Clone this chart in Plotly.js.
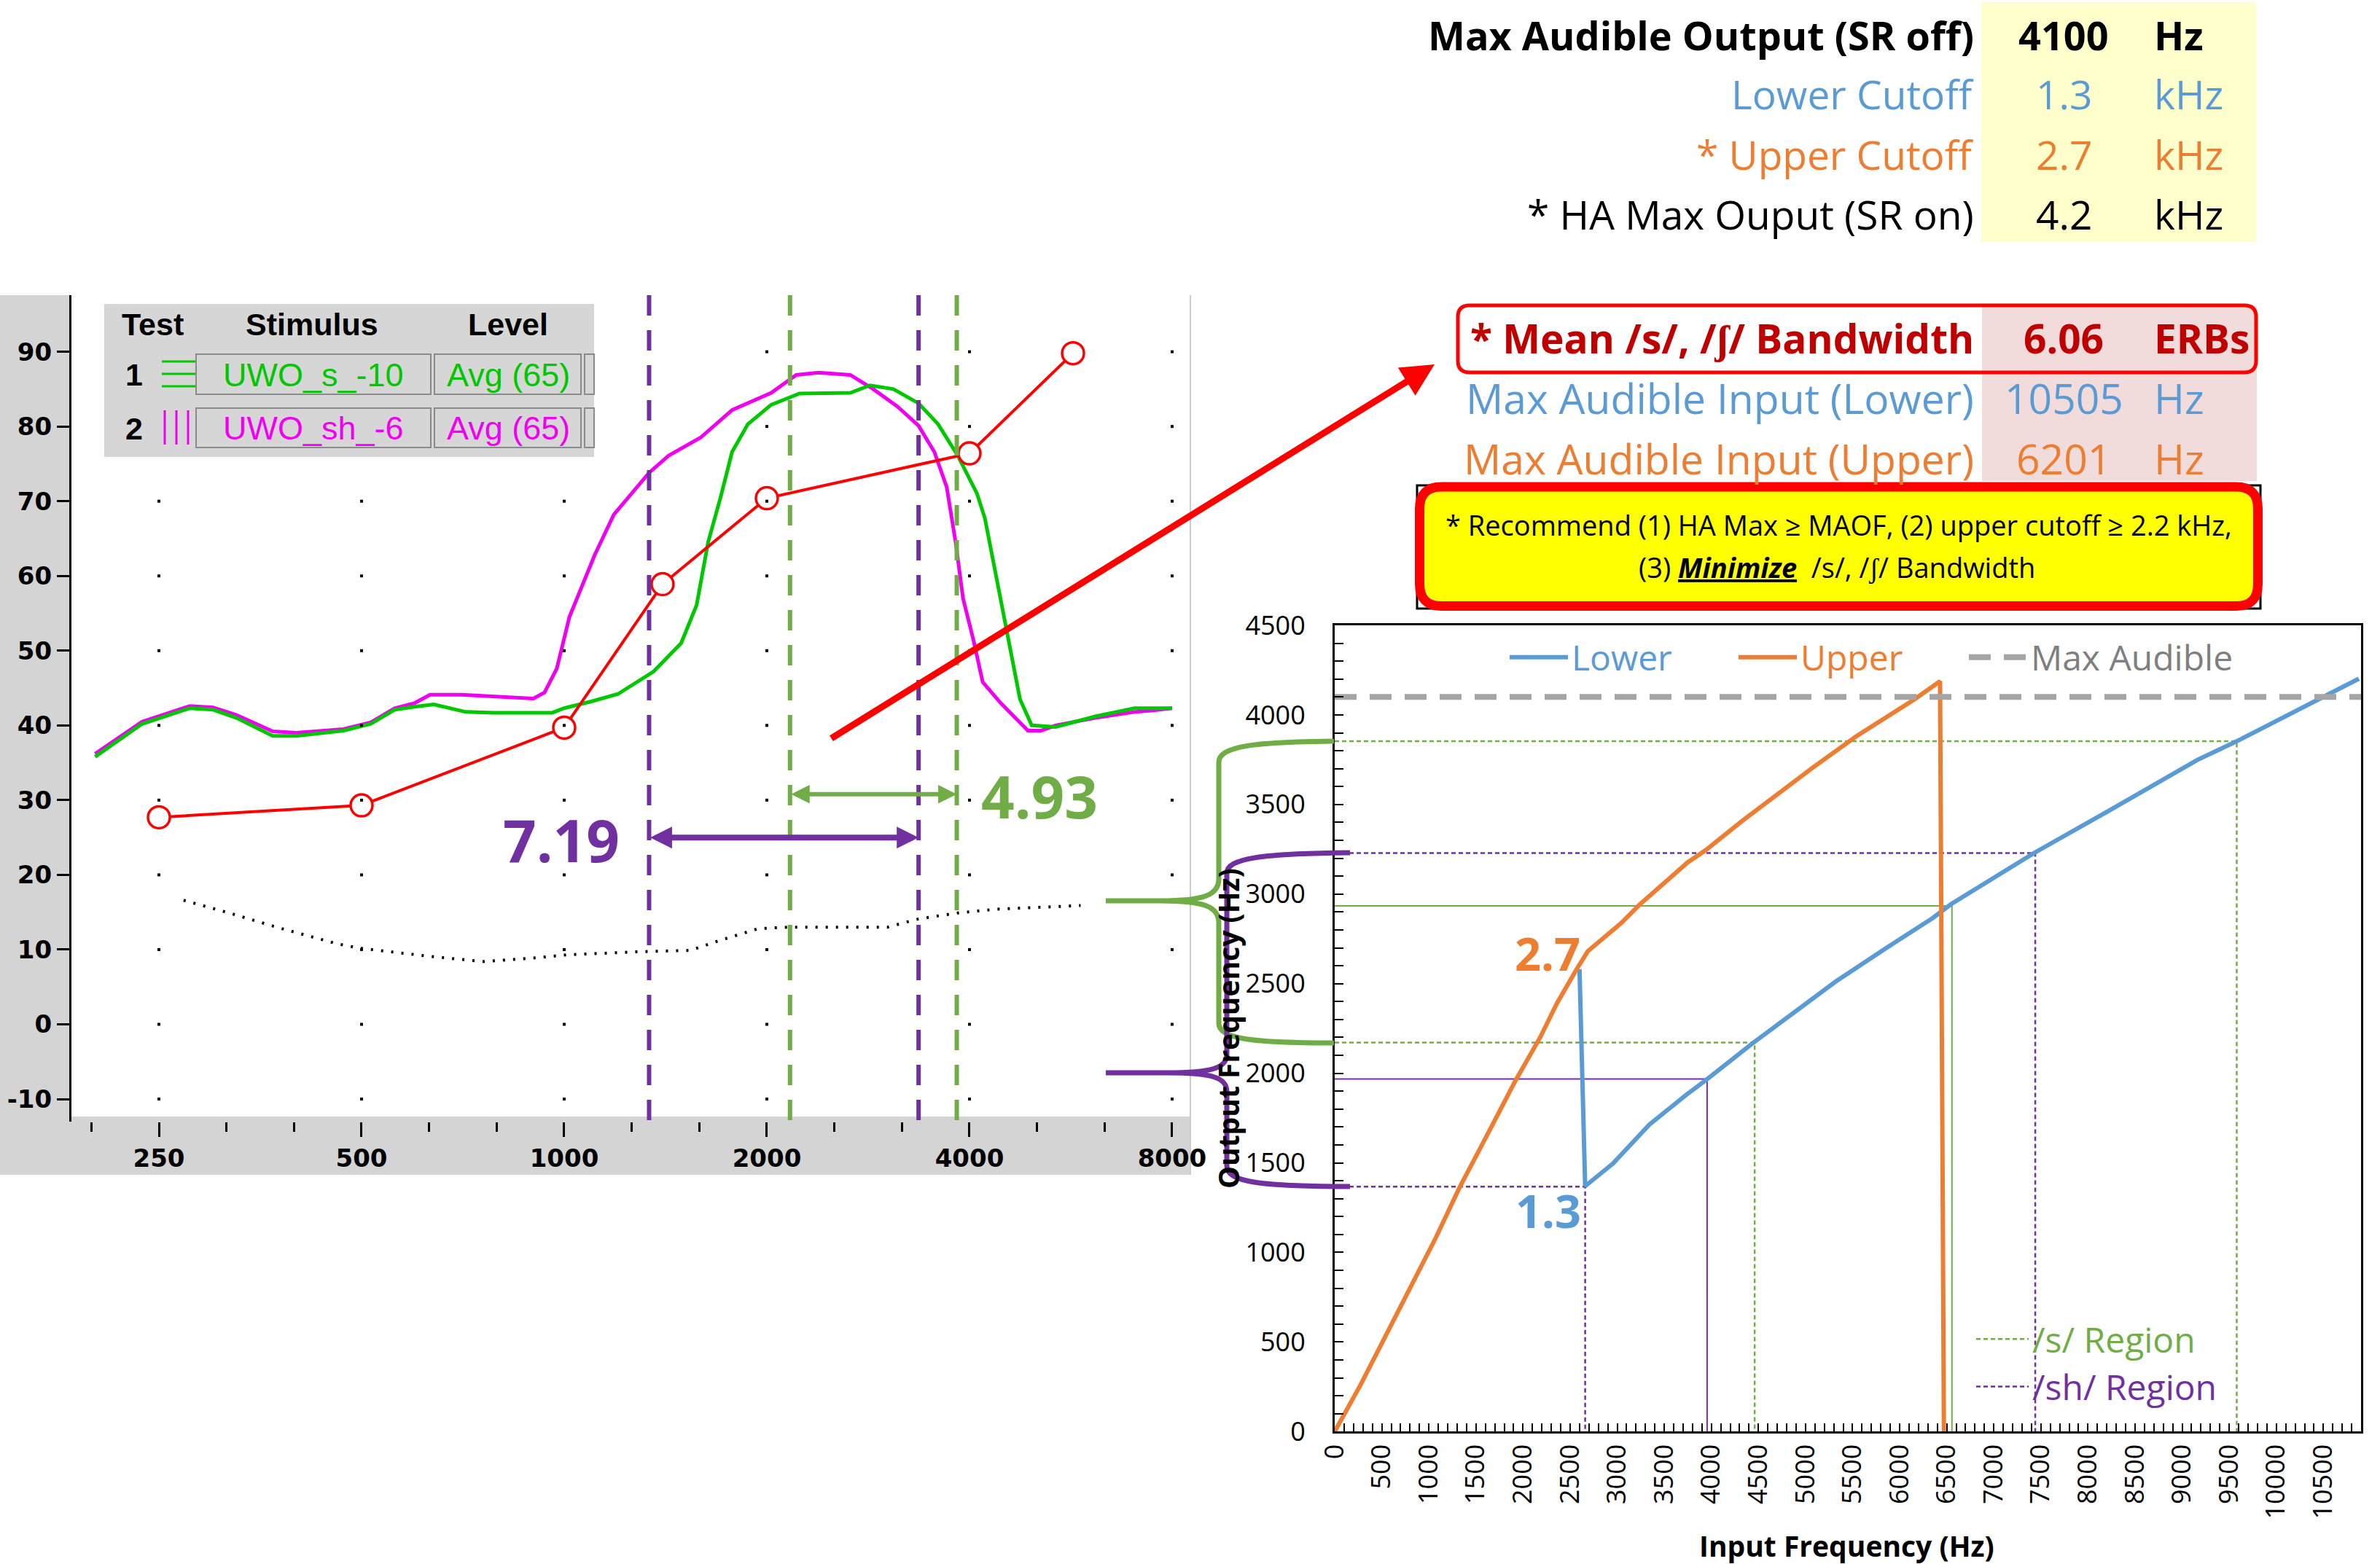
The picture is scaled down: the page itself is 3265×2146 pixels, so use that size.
<!DOCTYPE html>
<html><head><meta charset="utf-8">
<script src="https://cdn.plot.ly/plotly-3.0.1.min.js"></script>
<style>html,body{margin:0;padding:0;background:#fff}</style>
</head><body><div id="chart" style="width:3265px;height:2146px"></div>
<script>
// ===== Left chart: speech spectra (dB) vs frequency (Hz, log) =====
const leftTickFreqs  = [250, 500, 1000, 2000, 4000, 8000];
const leftTickLabels = ['250', '500', '1000', '2000', '4000', '8000'];
const leftMinorFreqs = [198.4, 315, 397, 630, 794, 1260, 1587, 2520, 3175, 5040, 6350];
const leftYTicks     = [-10, 0, 10, 20, 30, 40, 50, 60, 70, 80, 90];
const leftYLabels    = ['-10', '0', '10', '20', '30', '40', '50', '60', '70', '80', '90'];
const leftYRange     = [-13.02, 97.57];

const sFreq  = [201, 236, 278, 301, 326, 369, 400, 470, 516, 560, 599, 640, 714, 785, 960, 1000, 1097, 1202, 1357, 1492, 1573, 1636, 1707, 1776, 1874, 2030, 2236, 2661, 2845, 3083, 3361, 3593, 3843, 4105, 4217, 4388, 4567, 4755, 4950, 5370, 6150, 7030, 8000];
const sLevel = [35.8, 40.2, 42.3, 42.1, 41.0, 38.6, 38.6, 39.3, 40.2, 42.1, 42.5, 42.8, 41.8, 41.7, 41.7, 42.3, 43.2, 44.2, 47.2, 51.0, 56.1, 64.5, 70.5, 76.6, 80.3, 82.9, 84.4, 84.5, 85.5, 85.0, 83.1, 80.3, 76.1, 71.0, 67.7, 59.8, 51.4, 43.5, 40.0, 39.8, 41.2, 42.3, 42.3];

const shFreq  = [201, 236, 278, 301, 326, 369, 400, 470, 516, 560, 600, 632, 704, 800, 900, 935, 975, 1018, 1060, 1110, 1185, 1337, 1430, 1594, 1776, 2030, 2212, 2387, 2661, 2878, 3123, 3361, 3547, 3700, 3815, 3913, 4055, 4185, 4450, 4885, 5110, 5370, 6150, 7030, 7500, 8000];
const shLevel = [36.2, 40.5, 42.6, 42.4, 41.4, 39.2, 39.0, 39.5, 40.4, 42.3, 43.0, 44.1, 44.1, 43.8, 43.6, 44.4, 47.6, 54.5, 58.3, 62.8, 68.2, 73.8, 76.1, 78.5, 82.2, 84.5, 86.9, 87.2, 86.9, 85.0, 82.7, 80.1, 76.6, 71.9, 64.5, 57.0, 51.4, 45.8, 43.0, 39.3, 39.3, 40.0, 41.0, 41.8, 42.0, 42.3];

const redFreq  = [250, 500, 1000, 1400, 2000, 4000, 5700];
const redLevel = [27.7, 29.3, 39.7, 58.9, 70.4, 76.4, 89.8];

const threshFreq  = [272, 318, 374, 459, 496, 631, 758, 909, 1009, 1279, 1540, 1700, 1940, 2155, 3020, 3360, 3840, 4370, 5850];
const threshLevel = [16.6, 14.9, 13.0, 10.8, 10.2, 9.1, 8.4, 8.9, 9.3, 9.7, 9.9, 11.2, 12.8, 13.0, 13.0, 14.1, 14.9, 15.4, 15.9];

const shEdgesHz = [1337, 3361];
const sEdgesHz  = [2165, 3830];
const shBandLabel = '7.19';
const sBandLabel  = '4.93';

// ===== Right chart: input vs output frequency =====
const upperIn  = [0, 276, 1074, 1324, 1622, 1918, 2183, 2361, 2570, 2690, 3043, 3236, 3749, 3940, 4328, 4777, 5063, 5546, 5868, 6155, 6429, 6470];
const upperOut = [0, 262, 1082, 1360, 1658, 1957, 2201, 2391, 2581, 2682, 2838, 2940, 3177, 3245, 3408, 3591, 3700, 3883, 3991, 4086, 4188, 0];
const lowerIn  = [2600, 2660, 2955, 3341, 3725, 3949, 4437, 5321, 5867, 6348, 6547, 7430, 8199, 9163, 9580, 10444, 10877];
const lowerOut = [2581, 1370, 1496, 1713, 1876, 1964, 2167, 2512, 2702, 2865, 2944, 3230, 3458, 3749, 3853, 4081, 4202];
const maxAudibleOutput = 4100;
const sRegionOut  = [3853, 2934, 2171];
const sRegionIn   = [9580, 6555, 4460];
const shRegionOut = [3229, 1968, 1367];
const shRegionIn  = [7440, 3955, 2660];
const rightXTicks = [0,500,1000,1500,2000,2500,3000,3500,4000,4500,5000,5500,6000,6500,7000,7500,8000,8500,9000,9500,10000,10500];
const rightYTicks = [0,500,1000,1500,2000,2500,3000,3500,4000,4500];
const rightXRange = [0, 10900];
const upperCutoffLabel = '2.7';
const lowerCutoffLabel = '1.3';

// ===== Tables =====
const t1Labels = ['Max Audible Output (SR off)', 'Lower Cutoff', '* Upper Cutoff', '* HA Max Ouput (SR on)'];
const t1Values = ['4100', '1.3', '2.7', '4.2'];
const t1Units  = ['Hz', 'kHz', 'kHz', 'kHz'];
const t2Labels = ['* Mean /s/, /ʃ/ Bandwidth', 'Max Audible Input (Lower)', 'Max Audible Input (Upper)'];
const t2Values = ['6.06', '10505', '6201'];
const t2Units  = ['ERBs', 'Hz', 'Hz'];
const noteLine1 = '* Recommend (1) HA Max ≥ MAOF, (2) upper cutoff ≥ 2.2 kHz,';
const noteLine2 = '(3) <b><i><u>Minimize</u></i></b>\u00a0 /s/, /ʃ/ Bandwidth';

// ---------- helpers ----------
const W = 3265, H = 2146;
const X = px => px / W;
const Y = py => 1 - py / H;
const L10 = Math.log10;
function P(str){ // pixel path -> paper path
  return str.replace(/(-?\d+(?:\.\d+)?),(-?\d+(?:\.\d+)?)/g, (m,a,b)=> X(+a).toFixed(6)+','+Y(+b).toFixed(6));
}
function roundRect(x0,y0,x1,y1,r){
  return `M ${x0+r},${y0} L ${x1-r},${y0} Q ${x1},${y0} ${x1},${y0+r} L ${x1},${y1-r} Q ${x1},${y1} ${x1-r},${y1} L ${x0+r},${y1} Q ${x0},${y1} ${x0},${y1-r} L ${x0},${y0+r} Q ${x0},${y0} ${x0+r},${y0} Z`;
}
const PURPLE='#7030A0', GREEN='#70AD47', BLUE='#5B9BD5', ORANGE='#ED7D31', GRAY='#A5A5A5';
const CAL='Open Sans', X11='Liberation Sans', DV='DejaVu Sans';

const traces = [];
// left chart traces
traces.push({x:threshFreq, y:threshLevel, xaxis:'x', yaxis:'y', mode:'lines', line:{color:'#000', width:4, dash:'3px,11px'}, showlegend:false});
traces.push({x:shFreq, y:shLevel, xaxis:'x', yaxis:'y', mode:'lines', line:{color:'#F000F0', width:5}, showlegend:false});
traces.push({x:sFreq, y:sLevel, xaxis:'x', yaxis:'y', mode:'lines', line:{color:'#00C800', width:5}, showlegend:false});
traces.push({x:redFreq, y:redLevel, xaxis:'x', yaxis:'y', mode:'lines+markers', line:{color:'#FF0000', width:4},
  marker:{symbol:'circle', size:30, color:'#FFFFFF', line:{color:'#FF0000', width:3.5}}, showlegend:false});
const gx=[], gy=[];
leftYTicks.forEach(v=>leftTickFreqs.forEach(f=>{gx.push(f); gy.push(v);}));
traces.push({x:gx, y:gy, xaxis:'x', yaxis:'y', mode:'markers', marker:{symbol:'square', size:4, color:'#000'}, showlegend:false});
// band edge dashed verticals (left chart)
shEdgesHz.forEach(f=>traces.push({x:[f,f], y:[leftYRange[1], leftYRange[0]], xaxis:'x', yaxis:'y', mode:'lines',
  line:{color:PURPLE, width:6, dash:'28px,20px'}, showlegend:false}));
sEdgesHz.forEach(f=>traces.push({x:[f,f], y:[leftYRange[1], leftYRange[0]], xaxis:'x', yaxis:'y', mode:'lines',
  line:{color:GREEN, width:6, dash:'28px,20px'}, showlegend:false}));

// right chart region traces
function regionTraces(ins, outs, color, name, grp){
  ins.forEach((xi,i)=>{
    const mid = (i===1);
    traces.push({x:[0, xi, xi], y:[outs[i], outs[i], 0], xaxis:'x2', yaxis:'y2', mode:'lines',
      line:{color:color, width: mid?2:2.5, dash: mid?'solid':'6px,4px'},
      name: `<span style="color:${color}">${name}</span>`, legend:'legend2', legendgroup:grp, showlegend: i===0});
  });
}
regionTraces(sRegionIn, sRegionOut, GREEN, '/s/ Region', 's');
regionTraces(shRegionIn, shRegionOut, PURPLE, '/sh/ Region', 'sh');
traces.push({x:lowerIn, y:lowerOut, xaxis:'x2', yaxis:'y2', mode:'lines', line:{color:BLUE, width:6},
  name:`<span style="color:${BLUE}">Lower</span>`, legend:'legend'});
traces.push({x:upperIn, y:upperOut, xaxis:'x2', yaxis:'y2', mode:'lines', line:{color:ORANGE, width:6},
  name:`<span style="color:${ORANGE}">Upper</span>`, legend:'legend3'});
traces.push({x:rightXRange, y:[maxAudibleOutput, maxAudibleOutput], xaxis:'x2', yaxis:'y2', mode:'lines', line:{color:GRAY, width:8, dash:'30px,18px'},
  name:`<span style="color:#7F7F7F">Max Audible</span>`, legend:'legend4'});

// ---------- shapes ----------
const shapes = [];
// left panel gray
shapes.push({type:'rect', xref:'paper', yref:'paper', x0:X(0), x1:X(98), y0:Y(1612), y1:Y(405), fillcolor:'#D4D4D4', line:{width:0}, layer:'below'});
shapes.push({type:'rect', xref:'paper', yref:'paper', x0:X(0), x1:X(1633), y0:Y(1612), y1:Y(1532), fillcolor:'#D4D4D4', line:{width:0}, layer:'below'});
shapes.push({type:'line', xref:'paper', yref:'paper', x0:X(1633), x1:X(1633), y0:Y(1612), y1:Y(405), line:{color:'#CCCCCC', width:2}, layer:'below'});
// left x axis line
shapes.push({type:'line', xref:'x', yref:'paper', x0:L10(leftMinorFreqs[0]), x1:L10(leftTickFreqs[leftTickFreqs.length-1]), y0:Y(1539), y1:Y(1539), line:{color:'#000', width:3}});
// legend box of left chart
shapes.push({type:'rect', xref:'paper', yref:'paper', x0:X(143), x1:X(815), y0:Y(627), y1:Y(417), fillcolor:'#D6D6D6', line:{width:0}});
[[486,541],[560,614]].forEach(r=>{
  [[269,591],[596,797],[802,815]].forEach(c=>{
    shapes.push({type:'rect', xref:'paper', yref:'paper', x0:X(c[0]), x1:X(c[1]), y0:Y(r[1]), y1:Y(r[0]), fillcolor:'#D6D6D6', line:{color:'#8A8A8A', width:2}});
  });
});
[496,513,530].forEach(yy=>shapes.push({type:'line', xref:'paper', yref:'paper', x0:X(222), x1:X(268), y0:Y(yy), y1:Y(yy), line:{color:'#00C800', width:3}}));
[226,242,258].forEach(xx=>shapes.push({type:'line', xref:'paper', yref:'paper', x0:X(xx), x1:X(xx), y0:Y(563), y1:Y(610), line:{color:'#F000F0', width:3}}));
// braces
shapes.push({type:'path', xref:'paper', yref:'paper', line:{color:GREEN, width:7},
  path:P('M 1517,1236 L 1592,1236 C 1652,1236 1672,1228 1672,1206 L 1672,1046 C 1672,1024 1720,1018 1830,1017 M 1592,1236 C 1652,1236 1672,1244 1672,1266 L 1672,1404 C 1672,1426 1720,1431 1830,1431')});
shapes.push({type:'path', xref:'paper', yref:'paper', line:{color:PURPLE, width:7},
  path:P('M 1517,1472 L 1600,1472 C 1662,1472 1683,1466 1683,1446 L 1683,1198 C 1683,1178 1730,1171 1852,1170 M 1600,1472 C 1662,1472 1683,1478 1683,1498 L 1683,1600 C 1683,1622 1730,1628 1852,1628')});
// tables
shapes.push({type:'rect', xref:'paper', yref:'paper', x0:X(2718), x1:X(3095), y0:Y(332), y1:Y(3), fillcolor:'#FFFFCC', line:{width:0}, layer:'below'});
shapes.push({type:'rect', xref:'paper', yref:'paper', x0:X(2719), x1:X(3096), y0:Y(660), y1:Y(420), fillcolor:'#F2DCDB', line:{width:0}, layer:'below'});
shapes.push({type:'path', xref:'paper', yref:'paper', line:{color:'#FF0000', width:5}, path:P(roundRect(2000,419,3095,511,16))});
shapes.push({type:'rect', xref:'paper', yref:'paper', x0:X(1944), x1:X(3101), y0:Y(835), y1:Y(666), line:{color:'#000', width:3}});
shapes.push({type:'path', xref:'paper', yref:'paper', fillcolor:'#FFFF00', line:{color:'#FF0000', width:13}, path:P(roundRect(1947.5,668,3097.5,831.5,30))});

// ---------- annotations ----------
const ann = [];
function txt(x,y,text,opts){
  ann.push(Object.assign({xref:'paper', yref:'paper', x:X(x), y:Y(y), text:text, showarrow:false, xanchor:'center', yanchor:'middle'}, opts||{}));
}
// table 1
const t1Y=[48,129,212,294], t1C=['#000000', BLUE, ORANGE, '#000000'];
t1Labels.forEach((s,i)=>{
  const f = {family:CAL, size: i===0?54:55, color:t1C[i], weight: i===0?700:400};
  txt(2710,t1Y[i],s,{xanchor:'right', font:f});
  txt(2831,t1Y[i],t1Values[i],{font:f});
  txt(2953,t1Y[i],t1Units[i],{xanchor:'left', font:f});
});
// table 2
const t2Y=[463,546,629], t2C=['#C00000', BLUE, ORANGE];
t2Labels.forEach((s,i)=>{
  const f = {family:CAL, size: i===0?55:57, color:t2C[i], weight: i===0?700:400};
  txt(2710,t2Y[i],s,{xanchor:'right', font:f});
  txt(2831,t2Y[i],t2Values[i],{font:f});
  txt(2953,t2Y[i],t2Units[i],{xanchor:'left', font:f});
});
txt(2522,720,noteLine1,{font:{family:CAL, size:38, color:'#000'}});
txt(2520,778,noteLine2,{font:{family:CAL, size:38, color:'#000'}});
// left legend box text
const lf = (c,w,s)=>({family:X11, size:s||43, color:c, weight:w});
txt(209,445,'Test',{font:lf('#000',700)});
txt(428,445,'Stimulus',{font:lf('#000',700)});
txt(697,445,'Level',{font:lf('#000',700)});
txt(184,514,'1',{font:lf('#000',700)});
txt(184,588,'2',{font:lf('#000',700)});
txt(430,514,'UWO_s_-10',{font:lf('#00C800',400,45)});
txt(697,514,'Avg (65)',{font:lf('#00C800',400,45)});
txt(430,588,'UWO_sh_-6',{font:lf('#F000F0',400,45)});
txt(697,588,'Avg (65)',{font:lf('#F000F0',400,45)});
// bandwidth labels and arrows
txt(770,1151,shBandLabel,{font:{family:CAL, size:80, color:PURPLE, weight:700}});
txt(1426,1091,sBandLabel,{font:{family:CAL, size:80, color:GREEN, weight:700}});
ann.push({xref:'x', yref:'y', axref:'x', ayref:'y', x:L10(shEdgesHz[1]), y:25.0, ax:L10(shEdgesHz[0]), ay:25.0, text:'', showarrow:true,
  arrowside:'end+start', arrowhead:2, startarrowhead:2, arrowsize:0.75, startarrowsize:0.75, arrowwidth:8, arrowcolor:PURPLE, standoff:0, startstandoff:0});
ann.push({xref:'x', yref:'y', axref:'x', ayref:'y', x:L10(sEdgesHz[1]), y:30.8, ax:L10(sEdgesHz[0]), ay:30.8, text:'', showarrow:true,
  arrowside:'end+start', arrowhead:2, startarrowhead:2, arrowsize:0.85, startarrowsize:0.85, arrowwidth:6, arrowcolor:GREEN, standoff:0, startstandoff:0});
// cutoff labels
txt(2123,1308,upperCutoffLabel,{font:{family:CAL, size:63, color:ORANGE, weight:700}});
txt(2124,1660,lowerCutoffLabel,{font:{family:CAL, size:63, color:BLUE, weight:700}});
// axis titles of right chart
txt(2533,2120,'Input Frequency (Hz)',{font:{family:CAL, size:39, color:'#000', weight:700}});
txt(1684,1411,'Output Frequency (Hz)',{textangle:-90, font:{family:CAL, size:39, color:'#000', weight:700}});
// big red arrow
ann.push({xref:'paper', yref:'paper', x:X(1968), y:Y(500), ax:1139-1968, ay:1014-500, text:'', showarrow:true,
  arrowhead:2, arrowsize:1, arrowwidth:9, arrowcolor:'#FF0000', standoff:0});

const legFont = {family:CAL, size:48, color:'#000'};
const legBase = {xanchor:'left', y:Y(902), yanchor:'middle', orientation:'h', bgcolor:'rgba(0,0,0,0)', font:legFont, itemwidth:80};
const layout = {
  width:W, height:H, margin:{l:0,r:0,t:0,b:0}, paper_bgcolor:'#FFFFFF', plot_bgcolor:'rgba(0,0,0,0)',
  showlegend:true, hovermode:false,
  xaxis:{type:'log', domain:[X(98), X(1633)], range:[2.2680, 3.9302], anchor:'free', position:Y(1539),
    tickmode:'array', tickvals:leftTickFreqs, ticktext:leftTickLabels, ticks:'outside', ticklen:20, tickwidth:3, tickcolor:'#000',
    minor:{tickmode:'array', tickvals:leftMinorFreqs, ticks:'outside', ticklen:13, tickwidth:3, tickcolor:'#000', showgrid:false},
    showline:false, showgrid:false, zeroline:false, ticklabelstandoff:0,
    tickfont:{family:DV, size:34, color:'#000', weight:700}},
  yaxis:{domain:[Y(1539), Y(405)], range:leftYRange, anchor:'x',
    tickmode:'array', tickvals:leftYTicks, ticktext:leftYLabels, ticks:'outside', ticklen:17, tickwidth:3, tickcolor:'#000',
    showline:true, linewidth:3, linecolor:'#000', showgrid:false, zeroline:false,
    tickfont:{family:DV, size:34, color:'#000', weight:700}},
  xaxis2:{domain:[X(1831), X(3239)], range:rightXRange, anchor:'y2',
    tickmode:'array', tickvals:rightXTicks, ticktext:rightXTicks.map(String), tickangle:-90,
    ticks:'inside', ticklen:11, tickwidth:2, tickcolor:'#000',
    minor:{dtick:100, ticks:'inside', ticklen:11, tickwidth:2, tickcolor:'#000', showgrid:false},
    showline:true, mirror:true, linewidth:3, linecolor:'#000', showgrid:false, zeroline:false,
    tickfont:{family:CAL, size:36, color:'#000'}},
  yaxis2:{domain:[Y(1964.3), Y(858)], range:[0, 4500], anchor:'x2',
    tickmode:'array', tickvals:rightYTicks, ticktext:rightYTicks.map(String),
    ticks:'inside', ticklen:12, tickwidth:2, tickcolor:'#000',
    minor:{dtick:100, ticks:'inside', ticklen:12, tickwidth:2, tickcolor:'#000', showgrid:false},
    showline:true, mirror:true, linewidth:3, linecolor:'#000', showgrid:false, zeroline:false, ticklabelstandoff:30,
    tickfont:{family:CAL, size:36, color:'#000'}},
  legend: Object.assign({x:X(2066)}, legBase),
  legend3: Object.assign({x:X(2380)}, legBase),
  legend4: Object.assign({x:X(2696)}, legBase),
  legend2:{x:X(2706), xanchor:'left', y:Y(1870), yanchor:'middle', orientation:'v', bgcolor:'rgba(0,0,0,0)',
    font:legFont, itemwidth:72, tracegroupgap:0},
  shapes:shapes, annotations:ann
};
Plotly.newPlot('chart', traces, layout, {staticPlot:true});
</script></body></html>
